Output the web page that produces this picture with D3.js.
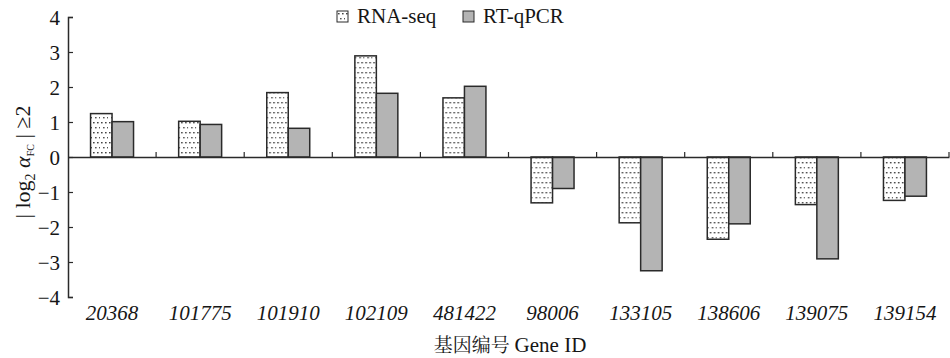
<!DOCTYPE html>
<html>
<head>
<meta charset="utf-8">
<script src="https://cdn.jsdelivr.net/npm/d3@7"></script>
</head>
<body style="margin:0;background:#fff">
<div id="chart"></div>
<script>
// gene ids and log2 fold changes
const genes = ["20368", "101775", "101910", "102109", "481422", "98006", "133105", "138606", "139075", "139154"];
const rnaSeq = [1.24, 1.02, 1.84, 2.89, 1.69, -1.31, -1.88, -2.35, -1.36, -1.24];
const qPCR = [1.01, 0.93, 0.82, 1.82, 2.02, -0.90, -3.25, -1.91, -2.91, -1.12];
const seriesNames = ["RNA-seq", "RT-qPCR"];
const yTicks = [-4, -3, -2, -1, 0, 1, 2, 3, 4];

const width = 950, height = 358;
const margin = {left: 68, right: 1, top: 17, bottom: 61};
const serif = "Liberation Serif";
const ink = "#161616";

const svg = d3.select("#chart").append("svg")
    .attr("width", width)
    .attr("height", height);

const defs = svg.append("defs");
const pat = defs.append("pattern")
    .attr("id", "dots")
    .attr("patternUnits", "userSpaceOnUse")
    .attr("width", 8)
    .attr("height", 10);
pat.append("rect").attr("width", 8).attr("height", 10).attr("fill", "#fff");
pat.append("rect").attr("x", 1).attr("y", 2).attr("width", 1.6).attr("height", 1.4).attr("fill", "#444");
pat.append("rect").attr("x", 5).attr("y", 2).attr("width", 1.6).attr("height", 1.4).attr("fill", "#444");
pat.append("rect").attr("x", 3).attr("y", 7).attr("width", 1.6).attr("height", 1.4).attr("fill", "#555");
pat.append("rect").attr("x", 7).attr("y", 7).attr("width", 1).attr("height", 1.4).attr("fill", "#555");

const x = d3.scaleBand()
    .domain(genes)
    .range([margin.left, width - margin.right])
    .paddingInner(0)
    .paddingOuter(0);

const y = d3.scaleLinear()
    .domain([-4, 4])
    .range([297, margin.top]);

const inner = d3.scaleBand()
    .domain(seriesNames)
    .range([0, x.bandwidth()])
    .paddingInner(0)
    .paddingOuter(1.05);

const fills = {"RNA-seq": "url(#dots)", "RT-qPCR": "#b4b4b4"};

// bars
const groups = svg.append("g").selectAll("g")
    .data(genes)
    .join("g")
    .attr("transform", d => `translate(${x(d)},0)`);

groups.selectAll("rect")
    .data((d, i) => [{s: "RNA-seq", v: rnaSeq[i]}, {s: "RT-qPCR", v: qPCR[i]}])
    .join("rect")
    .attr("x", d => inner(d.s))
    .attr("width", inner.bandwidth())
    .attr("y", d => Math.min(y(0), y(d.v)))
    .attr("height", d => Math.abs(y(d.v) - y(0)))
    .attr("fill", d => fills[d.s])
    .attr("stroke", "#2a2a2a")
    .attr("stroke-width", 1.5);

// zero line with category ticks
const xAxis = svg.append("g")
    .attr("transform", `translate(0,${y(0)})`)
    .call(d3.axisTop(x).tickSize(0).tickFormat(""));
xAxis.select(".domain").attr("stroke", "#2a2a2a").attr("stroke-width", 1.5);
xAxis.selectAll(".bnd")
    .data(genes)
    .join("line")
    .attr("class", "bnd")
    .attr("x1", d => x(d) + x.bandwidth())
    .attr("x2", d => x(d) + x.bandwidth())
    .attr("y1", 0)
    .attr("y2", -5)
    .attr("stroke", "#2a2a2a")
    .attr("stroke-width", 1.2);

// y axis
const yAxis = svg.append("g")
    .attr("transform", `translate(${margin.left},0)`)
    .call(d3.axisRight(y).tickValues(yTicks).tickSize(5).tickFormat(d => d < 0 ? "\u2212" + Math.abs(d) : d));
yAxis.attr("font-family", serif).attr("font-size", 21);
yAxis.select(".domain").attr("stroke", "#2a2a2a").attr("stroke-width", 1.5);
yAxis.selectAll(".tick line").attr("stroke", "#2a2a2a").attr("stroke-width", 1.2);
yAxis.selectAll(".tick text")
    .attr("x", -8)
    .attr("text-anchor", "end")
    .attr("dy", "0.34em")
    .attr("fill", ink);

// gene labels
svg.append("g").selectAll("text")
    .data(genes)
    .join("text")
    .attr("x", d => x(d) + x.bandwidth() / 2)
    .attr("y", 320)
    .attr("text-anchor", "middle")
    .attr("font-family", serif)
    .attr("font-size", 21)
    .attr("font-style", "italic")
    .attr("fill", ink)
    .text(d => d);

// axis titles
const xt = svg.append("text")
    .attr("x", 510)
    .attr("y", 352)
    .attr("text-anchor", "middle")
    .attr("font-family", serif)
    .attr("font-size", 21)
    .attr("fill", ink);
xt.append("tspan").attr("font-family", "'Noto Serif CJK SC', 'Noto Sans CJK SC'").attr("font-size", 19).text("基因编号 ");
xt.append("tspan").text("Gene ID");

const yl = svg.append("text")
    .attr("transform", `translate(30,${162}) rotate(-90)`)
    .attr("text-anchor", "middle")
    .attr("font-family", serif)
    .attr("font-size", 22)
    .attr("fill", ink);
yl.append("tspan").text("| log");
yl.append("tspan").attr("dy", 5).attr("font-size", 14).text("2");
yl.append("tspan").attr("dy", -5).text(" ");
yl.append("tspan").attr("font-style", "italic").text("α");
yl.append("tspan").attr("dy", 4).attr("font-size", 10).text("FC");
yl.append("tspan").attr("dy", -4).text(" | ≥2");

// legend
const legend = svg.append("g").selectAll("g")
    .data(seriesNames)
    .join("g")
    .attr("transform", (d, i) => `translate(${337 + i * 126},11)`);
legend.append("rect")
    .attr("width", 11)
    .attr("height", 11)
    .attr("fill", d => fills[d])
    .attr("stroke", "#2a2a2a")
    .attr("stroke-width", 1);
legend.append("text")
    .attr("x", 20)
    .attr("y", 12)
    .attr("font-family", serif)
    .attr("font-size", 21)
    .attr("fill", ink)
    .text(d => d);
</script>
</body>
</html>
